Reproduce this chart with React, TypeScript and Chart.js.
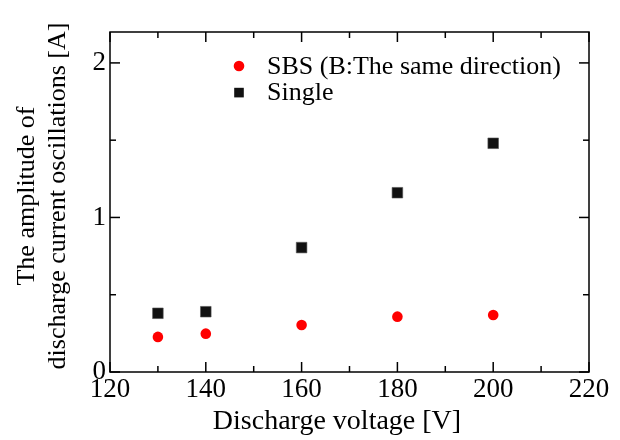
import React, { useEffect, useRef } from "react";
import { Chart, registerables } from "chart.js";

Chart.register(...registerables);

const voltages = [130, 140, 160, 180, 200];
const sbsValues = [0.227, 0.248, 0.304, 0.358, 0.369];
const singleValues = [0.38, 0.39, 0.805, 1.16, 1.48];

const xMajorTicks = [120, 140, 160, 180, 200, 220];
const xMinorTicks = [130, 150, 170, 190, 210];
const yMajorTicks = [0, 1, 2];
const yMinorTicks = [0.5, 1.5];

const seriesLabels = ["SBS (B:The same direction)", "Single"];
const xTitle = "Discharge voltage [V]";
const yTitle = ["The amplitude of", "discharge current oscillations [A]"];

const FONT = "'Liberation Serif', 'Times New Roman', serif";

const frameAndTicks = {
  id: "frameAndTicks",
  beforeDatasetsDraw(chart: any) {
    const { ctx, chartArea, scales } = chart;
    const { left, right, top, bottom } = chartArea;
    ctx.save();
    ctx.strokeStyle = "#000";
    ctx.lineWidth = 1.5;
    ctx.strokeRect(left, top, right - left, bottom - top);
    const seg = (x1: number, y1: number, x2: number, y2: number) => {
      ctx.beginPath();
      ctx.moveTo(x1, y1);
      ctx.lineTo(x2, y2);
      ctx.stroke();
    };
    const major = 10;
    const minor = 6;
    xMajorTicks.forEach((v) => {
      const x = scales.x.getPixelForValue(v);
      seg(x, bottom, x, bottom - major);
      seg(x, top, x, top + major);
    });
    xMinorTicks.forEach((v) => {
      const x = scales.x.getPixelForValue(v);
      seg(x, bottom, x, bottom - minor);
      seg(x, top, x, top + minor);
    });
    yMajorTicks.forEach((v) => {
      const y = scales.y.getPixelForValue(v);
      seg(left, y, left + major, y);
      seg(right, y, right - major, y);
    });
    yMinorTicks.forEach((v) => {
      const y = scales.y.getPixelForValue(v);
      seg(left, y, left + minor, y);
      seg(right, y, right - minor, y);
    });

    // axis titles
    ctx.fillStyle = "#000";
    ctx.textAlign = "center";
    ctx.textBaseline = "middle";
    ctx.font = `28px ${FONT}`;
    ctx.fillText(xTitle, left + 227, 422);
    ctx.save();
    ctx.translate(27, 196);
    ctx.rotate(-Math.PI / 2);
    ctx.font = `26px ${FONT}`;
    yTitle.forEach((line, i) => {
      ctx.fillText(line, 0, i * 31);
    });
    ctx.restore();
    ctx.restore();
  },
};

const insideLegend = {
  id: "insideLegend",
  afterDatasetsDraw(chart: any) {
    const { ctx, chartArea } = chart;
    const markerX = chartArea.left + 129;
    const textX = chartArea.left + 157;
    const startY = chartArea.top + 34;
    const rowH = 26.6;
    ctx.save();
    chart.data.datasets.forEach((ds: any, i: number) => {
      const y = startY + i * rowH;
      ctx.fillStyle = ds.backgroundColor;
      if (ds.pointStyle === "rect") {
        const s = 9.6;
        ctx.fillRect(markerX - s / 2, y - s / 2, s, s);
      } else {
        ctx.beginPath();
        ctx.arc(markerX, y, 5.3, 0, Math.PI * 2);
        ctx.fill();
      }
      ctx.fillStyle = "#000";
      ctx.font = `26px ${FONT}`;
      ctx.textBaseline = "middle";
      ctx.textAlign = "left";
      ctx.fillText(ds.label, textX, y + 1);
    });
    ctx.restore();
  },
};

export default function App() {
  const ref = useRef<HTMLCanvasElement | null>(null);
  useEffect(() => {
    if (!ref.current) return;
    const chart = new Chart(ref.current, {
      type: "scatter",
      data: {
        datasets: [
          {
            label: seriesLabels[0],
            data: voltages.map((v, i) => ({ x: v, y: sbsValues[i] })),
            backgroundColor: "#ff0000",
            borderColor: "#ff0000",
            borderWidth: 0,
            pointStyle: "circle",
            pointRadius: 5.3,
            pointHoverRadius: 5.3,
          },
          {
            label: seriesLabels[1],
            data: voltages.map((v, i) => ({ x: v, y: singleValues[i] })),
            backgroundColor: "#111111",
            borderColor: "#555555",
            borderWidth: 0.6,
            pointStyle: "rect",
            pointRadius: 7.5,
            pointHoverRadius: 7.5,
          },
        ],
      },
      options: {
        responsive: false,
        animation: false,
        events: [],
        layout: { padding: { top: 32, right: 31, left: 0, bottom: 0 } },
        plugins: {
          legend: { display: false },
          tooltip: { enabled: false },
        },
        scales: {
          x: {
            type: "linear",
            min: 120,
            max: 220,
            afterBuildTicks: (s: any) => {
              s.ticks = xMajorTicks.map((v) => ({ value: v }));
            },
            afterFit: (s: any) => {
              s.height = 68;
            },
            grid: { display: false, drawTicks: false },
            border: { display: false },
            ticks: {
              color: "#000",
              padding: 2,
              maxRotation: 0,
              font: { family: FONT, size: 27 },
            },
            title: { display: false },
          },
          y: {
            type: "linear",
            min: 0,
            max: 2.2,
            afterBuildTicks: (s: any) => {
              s.ticks = yMajorTicks.map((v) => ({ value: v }));
            },
            afterFit: (s: any) => {
              s.width = 110;
            },
            grid: { display: false, drawTicks: false },
            border: { display: false },
            ticks: {
              color: "#000",
              padding: 4,
              font: { family: FONT, size: 27 },
            },
            title: { display: false },
          },
        },
      },
      plugins: [frameAndTicks, insideLegend],
    });
    return () => chart.destroy();
  }, []);
  return (
    <div style={{ position: "absolute", left: 0, top: 0, width: 620, height: 440, background: "#fff" }}>
      <canvas ref={ref} width={620} height={440} />
    </div>
  );
}
